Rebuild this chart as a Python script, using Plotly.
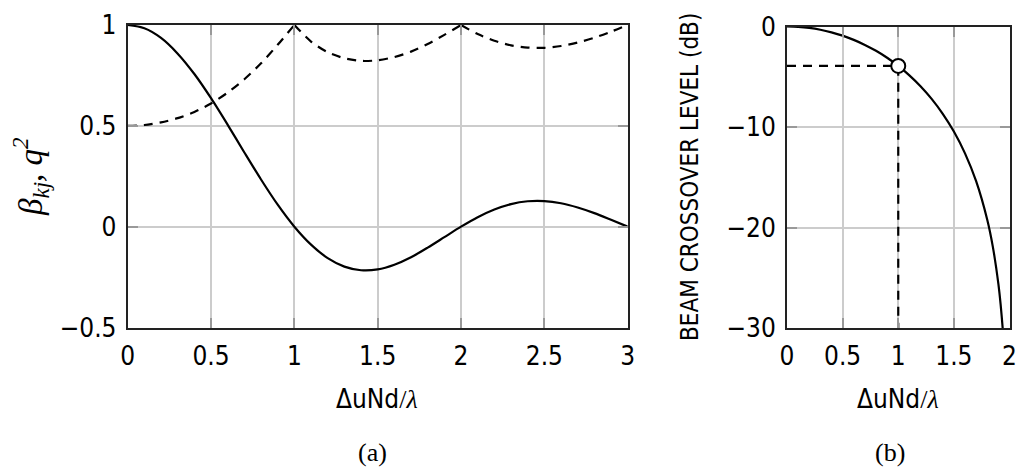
import plotly.graph_objects as go

# ---- panel (a) data ----
x_a = [0.0, 0.1, 0.2, 0.3, 0.4, 0.5, 0.6, 0.7, 0.8, 0.9, 1.0,
       1.1, 1.2, 1.3, 1.4, 1.5, 1.6, 1.7, 1.8, 1.9, 2.0,
       2.1, 2.2, 2.3, 2.4, 2.5, 2.6, 2.7, 2.8, 2.9, 3.0]
beta = [1.0, 0.984, 0.936, 0.858, 0.757, 0.637, 0.505, 0.368, 0.234, 0.109, 0.0,
        -0.089, -0.156, -0.198, -0.216, -0.212, -0.189, -0.152, -0.104, -0.052, 0.0,
        0.047, 0.085, 0.112, 0.126, 0.127, 0.116, 0.095, 0.067, 0.034, 0.0]
q2 = [0.500, 0.504, 0.517, 0.538, 0.569, 0.611, 0.665, 0.731, 0.810, 0.902, 1.0,
      0.918, 0.865, 0.835, 0.822, 0.825, 0.841, 0.868, 0.906, 0.951, 1.0,
      0.955, 0.922, 0.899, 0.888, 0.887, 0.896, 0.913, 0.937, 0.967, 1.0]

# ---- panel (b) data ----
x_b = [0.0, 0.1, 0.2, 0.3, 0.4, 0.5, 0.6, 0.7, 0.8, 0.9, 1.0, 1.1, 1.2, 1.3,
       1.4, 1.5, 1.6, 1.7, 1.8, 1.85, 1.9, 1.92, 1.94, 1.95]
level_db = [0.0, -0.04, -0.14, -0.32, -0.58, -0.91, -1.33, -1.83, -2.42, -3.11,
            -3.92, -4.86, -5.94, -7.20, -8.69, -10.45, -12.62, -15.39, -19.23,
            -21.90, -25.61, -27.63, -30.21, -31.83]
cross_x = 1.0
cross_db = -3.92
ymin_b = -30

xticks_a = [0, 0.5, 1, 1.5, 2, 2.5, 3]
yticks_a = [-0.5, 0, 0.5, 1]
xticks_b = [0, 0.5, 1, 1.5, 2]
yticks_b = [-30, -20, -10, 0]

SANS = "Liberation Sans Narrow, DejaVu Sans Condensed, Arial Narrow, sans-serif"
SERIF = "Liberation Serif, DejaVu Serif, serif"
W, H = 1016, 468

fig = go.Figure()

# panel (a): dashed q^2 drawn as lobes (cusps at integers)
for s, e in [(0, 11), (10, 21), (20, 31)]:
    fig.add_trace(go.Scatter(x=x_a[s:e], y=q2[s:e], mode="lines",
                             line=dict(color="black", width=2.2, dash="9px,7px", shape="spline", smoothing=0.8),
                             xaxis="x", yaxis="y", showlegend=False, hoverinfo="skip"))
fig.add_trace(go.Scatter(x=x_a, y=beta, mode="lines",
                         line=dict(color="black", width=2.2, shape="spline", smoothing=0.8),
                         xaxis="x", yaxis="y", showlegend=False))

# panel (b)
fig.add_trace(go.Scatter(x=[0, cross_x, cross_x], y=[cross_db, cross_db, ymin_b], mode="lines",
                         line=dict(color="black", width=2.2, dash="9px,7px"),
                         xaxis="x2", yaxis="y2", showlegend=False))
fig.add_trace(go.Scatter(x=x_b, y=level_db, mode="lines",
                         line=dict(color="black", width=2.2, shape="spline", smoothing=0.8),
                         xaxis="x2", yaxis="y2", showlegend=False))
fig.add_trace(go.Scatter(x=[cross_x], y=[cross_db], mode="markers",
                         marker=dict(size=14, color="white", line=dict(color="black", width=2)),
                         xaxis="x2", yaxis="y2", showlegend=False))

ax_common = dict(showgrid=True, gridcolor="#cccccc", gridwidth=1.5,
                 showline=True, linecolor="#222222", linewidth=2, mirror="ticks",
                 ticks="inside", ticklen=10, tickwidth=2, tickcolor="#999999",
                 zeroline=False, automargin=False, ticklabeloverflow="allow",
                 tickfont=dict(family=SANS, size=26, color="black"))

fig.update_layout(
    width=W, height=H, margin=dict(l=0, r=0, t=0, b=0, pad=0, autoexpand=False),
    paper_bgcolor="white", plot_bgcolor="white",
    xaxis=dict(domain=[127.7 / W, 627.7 / W], range=[0, 3], tickvals=xticks_a,
               ticktext=[f"{v:g}" for v in xticks_a], anchor="y", ticklabelstandoff=4, **ax_common),
    yaxis=dict(domain=[1 - 327.5 / H, 1 - 25 / H], range=[-0.5, 1], tickvals=yticks_a,
               ticktext=[("\u2212" if v < 0 else "") + f"{abs(v):g}" for v in yticks_a],
               anchor="x", ticklabelstandoff=4, **ax_common),
    xaxis2=dict(domain=[787 / W, 1009.5 / W], range=[0, 2], tickvals=xticks_b,
                ticktext=[f"{v:g}" for v in xticks_b], anchor="y2", ticklabelstandoff=4, **ax_common),
    yaxis2=dict(domain=[1 - 328 / H, 1 - 26.5 / H], range=[-30, 0], tickvals=yticks_b,
                ticktext=[("\u2212" if v < 0 else "") + f"{abs(v):g}" for v in yticks_b],
                anchor="x2", ticklabelstandoff=4, **ax_common),
)

xt = "\u0394uNd<span style='font-family:" + SERIF + "'>/<i>\u03bb</i></span>"
ann = [
    dict(x=377 / W, y=1 - 399 / H, text=xt, font=dict(family=SANS, size=26)),
    dict(x=898 / W, y=1 - 399 / H, text=xt, font=dict(family=SANS, size=26)),
    dict(x=372 / W, y=1 - 452 / H, text="(a)", font=dict(family=SERIF, size=26)),
    dict(x=890 / W, y=1 - 452 / H, text="(b)", font=dict(family=SERIF, size=26)),
    dict(x=30 / W, y=1 - 177 / H, text="<i>\u03b2<sub>kj</sub>, q<sup>2</sup></i>",
         font=dict(family=SERIF, size=33), textangle=-90),
    dict(x=690 / W, y=1 - 177 / H, text="BEAM CROSSOVER LEVEL (dB)",
         font=dict(family=SANS, size=24), textangle=-90),
]
for a in ann:
    a.update(xref="paper", yref="paper", showarrow=False, xanchor="center", yanchor="middle")
    a["font"]["color"] = "black"
fig.update_layout(annotations=ann)

fig.write_html("out.html")
